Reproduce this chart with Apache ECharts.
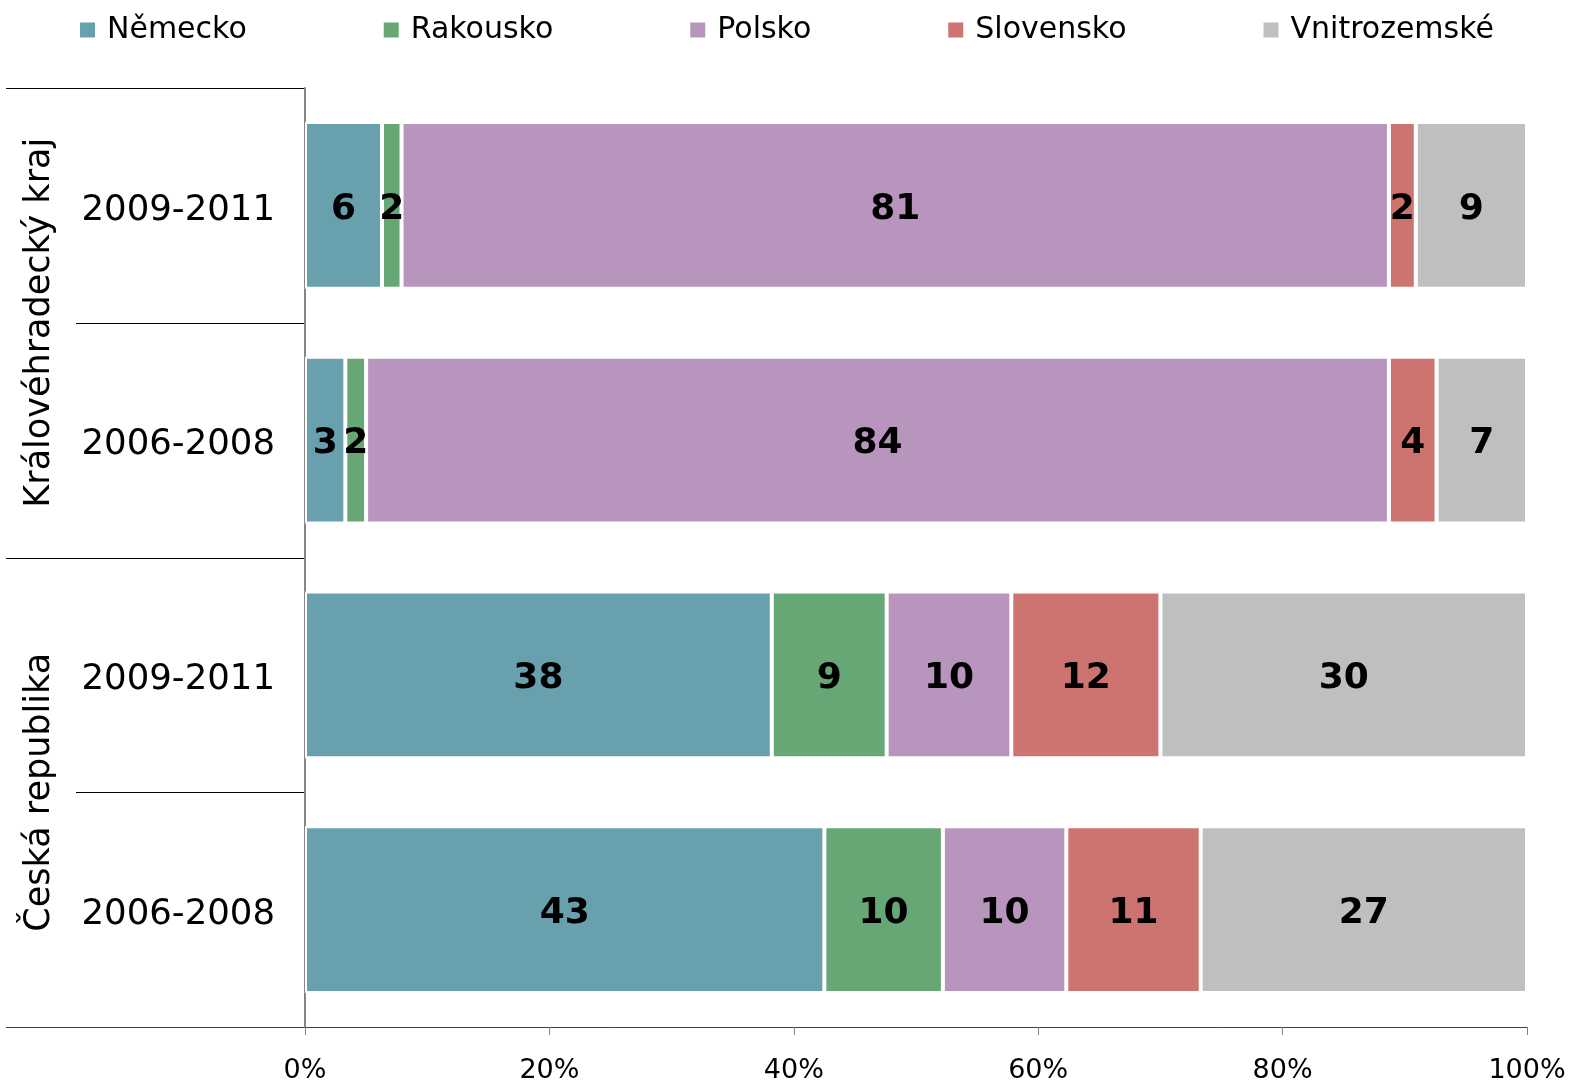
<!DOCTYPE html>
<html>
<head>
<meta charset="utf-8">
<title>Struktura zahraničních turistů</title>
<script src="https://cdn.jsdelivr.net/npm/echarts@6/dist/echarts.min.js"></script>
<style>
  html, body { margin: 0; padding: 0; background: #ffffff; }
  #chart { width: 1570px; height: 1082px; }
</style>
</head>
<body>
<div id="chart"></div>
<script>
// Období (kategorie), seskupená podle územního celku
const periods = ['2009-2011', '2006-2008', '2009-2011', '2006-2008'];
const regionOfPeriod = [0, 0, 1, 1];
const regions = ['Královéhradecký kraj', 'Česká republika'];

// Podíly v % (součet každého řádku = 100)
const seriesNames = ['Německo', 'Rakousko', 'Polsko', 'Slovensko', 'Vnitrozemské'];
const nemecko      = [6.3, 3.3, 38.2, 42.5];
const rakousko     = [1.6, 1.7, 9.4, 9.7];
const polsko       = [80.8, 83.7, 10.2, 10.1];
const slovensko    = [2.2, 3.9, 12.2, 11.0];
const vnitrozemske = [9.1, 7.4, 30.0, 26.7];

// Osa x: 0 % až 100 % po 20 %
const xMin = 0, xMax = 100, xStep = 20;

const FONT = 'DejaVu Sans';
const colors = ['#69A0AE', '#67A775', '#B795BD', '#CD7470', '#BFBFBF'];
const values = [nemecko, rakousko, polsko, slovensko, vnitrozemske];
const categoryKeys = periods.map((p, i) => 'r' + regionOfPeriod[i] + '_' + i + '_' + p);

const chart = echarts.init(document.getElementById('chart'), null, { renderer: 'canvas' });

const option = {
  animation: false,
  textStyle: { fontFamily: FONT },
  legend: {
    left: 80,
    top: 15,
    padding: 0,
    icon: 'rect',
    itemWidth: 15,
    itemHeight: 15,
    itemGap: 137,
    itemStyle: { borderWidth: 0 },
    textStyle: { fontSize: 30, color: '#000000', fontFamily: FONT, padding: [0, 0, 0, 7] },
    data: seriesNames
  },
  grid: {
    left: 305,
    right: 43,
    top: 88,
    bottom: 55,
    containLabel: false,
    outerBoundsMode: 'none'
  },
  xAxis: {
    type: 'value',
    min: xMin,
    max: xMax,
    interval: xStep,
    axisLine: { show: true, lineStyle: { color: '#404040', width: 1 } },
    axisTick: { show: true, length: 8, lineStyle: { color: '#808080', width: 1 } },
    splitLine: { show: false },
    axisLabel: {
      formatter: '{value}%',
      fontSize: 27,
      color: '#000000',
      margin: 30,
      fontFamily: FONT
    }
  },
  yAxis: {
    type: 'category',
    inverse: true,
    data: categoryKeys,
    axisLine: { show: true, lineStyle: { color: '#868686', width: 2 } },
    axisTick: { show: false },
    splitLine: { show: false },
    axisLabel: {
      formatter: (v, i) => '{p|' + periods[i] + '}',
      margin: 30,
      rich: {
        p: {
          fontSize: 35.5,
          color: '#000000',
          fontFamily: FONT,
          padding: [10, 0, 0, 0]
        }
      }
    }
  },
  series: seriesNames.map((name, k) => ({
    name: name,
    type: 'bar',
    stack: 'podil',
    barCategoryGap: '29%',
    data: values[k],
    itemStyle: { color: colors[k], borderColor: '#ffffff', borderWidth: 2 },
    label: {
      show: true,
      position: 'inside',
      offset: [0, 4],
      formatter: p => String(Math.round(p.value)),
      fontSize: 36,
      fontWeight: 'bold',
      color: '#000000',
      textBorderWidth: 0,
      fontFamily: FONT
    },
    emphasis: { disabled: true }
  }))
};

chart.setOption(option);

// Dvouúrovňové popisky vlevo: dělicí čáry mezi obdobími a názvy územních celků
const c0 = chart.convertToPixel({ yAxisIndex: 0 }, categoryKeys[0]);
const c1 = chart.convertToPixel({ yAxisIndex: 0 }, categoryKeys[1]);
const band = c1 - c0;
const edge = i => c0 + (i - 0.5) * band;
const axisX = chart.convertToPixel({ xAxisIndex: 0 }, xMin);

const graphics = [];
for (let i = 0; i <= periods.length; i++) {
  const groupBoundary = i === 0 || i === periods.length || regionOfPeriod[i] !== regionOfPeriod[i - 1];
  const y = Math.round(edge(i)) + 0.5;
  graphics.push({
    type: 'line',
    silent: true,
    shape: { x1: groupBoundary ? 6 : 76, y1: y, x2: axisX, y2: y },
    style: { stroke: groupBoundary && i === periods.length ? '#404040' : '#000000', lineWidth: 1 }
  });
}
regions.forEach((name, r) => {
  const idx = regionOfPeriod.map((g, i) => (g === r ? i : -1)).filter(i => i >= 0);
  const cy = (edge(idx[0]) + edge(idx[idx.length - 1] + 1)) / 2;
  graphics.push({
    type: 'text',
    silent: true,
    x: 40,
    y: cy,
    rotation: Math.PI / 2,
    style: {
      text: name,
      x: 0,
      y: 0,
      align: 'center',
      verticalAlign: 'middle',
      fontSize: 35,
      fontFamily: FONT,
      fill: '#000000'
    }
  });
});

chart.setOption({ graphic: graphics });
</script>
</body>
</html>
